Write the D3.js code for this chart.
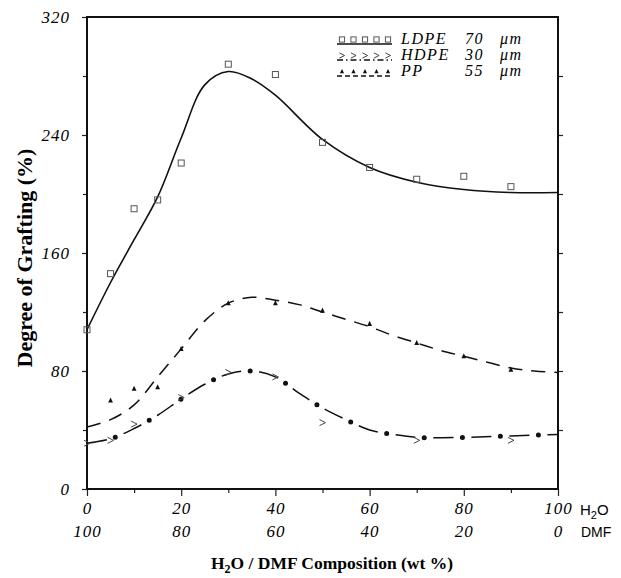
<!doctype html>
<html lang="en">
<head>
    <meta charset="UTF-8">
    <title>Degree of Grafting</title>
    <style>
        body { margin: 0; background: #fff; }
        .tick text { font-family: "Liberation Serif", serif; font-style: italic; font-size: 17px; letter-spacing: 1px; }
    </style>
</head>
<body>

<div class="canvas"></div>

<script src="https://d3js.org/d3.v7.min.js"></script>
<script>
    // measured points
    const ldpeX = [0, 5, 10, 15, 20, 30, 40, 50, 60, 70, 80, 90];
    const ldpeY = [108, 146, 190, 196, 221, 288, 281, 235, 218, 210, 212, 205];
    const hdpeX = [0, 5, 10, 20, 30, 40, 50, 70, 90];
    const hdpeY = [31, 33, 44, 62, 79, 76, 45, 33, 33];
    const ppX = [5, 10, 15, 20, 30, 40, 50, 60, 70, 80, 90];
    const ppY = [60, 68, 69, 95, 126, 126, 121, 112, 99, 90, 81];

    // fitted curves
    const ldpeFitX = [0, 5, 10, 15, 20, 25, 30, 35, 40, 50, 60, 70, 80, 90, 100];
    const ldpeFitY = [108, 140, 169, 198, 238, 274, 283, 278, 267, 237, 218, 208, 203, 201, 201];
    const hdpeFitX = [0, 5, 10, 15, 20, 25, 30, 35, 40, 45, 50, 55, 60, 65, 70, 80, 90, 100];
    const hdpeFitY = [31, 34, 41, 50, 61, 71, 78, 80, 76, 65, 55, 47, 40, 37, 35, 35, 36, 37];
    const ppFitX = [0, 5, 10, 15, 20, 25, 30, 35, 40, 45, 50, 55, 60, 65, 70, 75, 80, 85, 90, 95, 100];
    const ppFitY = [42, 47, 57, 76, 95, 114, 126, 130, 128, 125, 120, 115, 110, 104, 99, 94, 90, 86, 82, 80, 79];

    const xTicks = [0, 20, 40, 60, 80, 100];
    const xMinor = [10, 30, 50, 70, 90];
    const yTicks = [0, 80, 160, 240, 320];
    const yMinor = [40, 120, 200, 280];

    const legendNames = ['LDPE', 'HDPE', 'PP'];
    const legendSizes = ['70', '30', '55'];

    const svgWidth = 621;
    const svgHeight = 578;

    const svg = d3.select('.canvas').append('svg')
        .attr('width', svgWidth)
        .attr('height', svgHeight)
    ;

    const x = d3.scaleLinear().domain([0, 100]).range([87, 558]);
    const y = d3.scaleLinear().domain([0, 320]).range([489, 17]);

    const pts = (xs, ys) => xs.map((v, i) => [v, ys[i]]);
    const line = d3.line()
        .x(d => x(d[0]))
        .y(d => y(d[1]))
        .curve(d3.curveCatmullRom.alpha(0.5))
    ;

    // axes
    svg.append('g').attr('transform', `translate(${x(0)},0)`)
        .call(d3.axisLeft(y).tickValues(yTicks).tickSize(5).tickPadding(12));
    svg.append('g').attr('transform', `translate(${x(0)},0)`)
        .call(d3.axisLeft(y).tickValues(yMinor).tickSize(4).tickFormat(''));
    svg.append('g').attr('transform', `translate(${x(100)},0)`)
        .call(d3.axisLeft(y).tickValues(yMinor.concat([80, 160, 240])).tickSize(-5).tickFormat(''));

    svg.append('g').attr('transform', `translate(0,${y(0)})`)
        .call(d3.axisBottom(x).tickValues(xTicks).tickSize(7).tickPadding(6));
    svg.append('g').attr('transform', `translate(0,${y(0)})`)
        .call(d3.axisBottom(x).tickValues(xMinor).tickSize(4).tickFormat(''));
    // DMF row
    svg.append('g').attr('transform', `translate(0,${y(0) + 23})`)
        .call(d3.axisBottom(x).tickValues(xTicks).tickSize(0).tickPadding(13).tickFormat(d => 100 - d));

    svg.selectAll('.domain').remove();
    svg.selectAll('.tick line').attr('stroke', '#222').attr('stroke-width', 1.2);

    // frame
    svg.append('rect')
        .attr('x', x(0)).attr('y', y(320))
        .attr('width', x(100) - x(0)).attr('height', y(0) - y(320))
        .attr('fill', 'none').attr('stroke', '#111').attr('stroke-width', 2)
    ;

    svg.append('text').attr('x', x(100) + 22).attr('y', 515)
        .attr('font-family', '"Liberation Sans", sans-serif').attr('font-size', 15)
        .html('H<tspan font-size="11" dy="4">2</tspan><tspan dy="-4">O</tspan>');
    svg.append('text').attr('x', x(100) + 23).attr('y', 537)
        .attr('font-family', '"Liberation Sans", sans-serif').attr('font-size', 14)
        .text('DMF');

    // titles
    svg.append('text')
        .attr('transform', 'translate(32,258) rotate(-90)')
        .attr('text-anchor', 'middle')
        .attr('font-family', '"Liberation Serif", serif').attr('font-weight', 'bold').attr('font-size', 22)
        .text('Degree of Grafting (%)');
    svg.append('text')
        .attr('x', 332).attr('y', 569)
        .attr('text-anchor', 'middle')
        .attr('font-family', '"Liberation Serif", serif').attr('font-weight', 'bold').attr('font-size', 17.5)
        .html('H<tspan font-size="12" dy="4">2</tspan><tspan dy="-4">O / DMF Composition (wt %)</tspan>');

    // curves
    const plot = svg.append('g');
    plot.append('path').datum(pts(ldpeFitX, ldpeFitY))
        .attr('d', line).attr('fill', 'none').attr('stroke', '#111').attr('stroke-width', 1.6);

    plot.append('path').datum(pts(ppFitX, ppFitY))
        .attr('d', line).attr('fill', 'none').attr('stroke', '#111').attr('stroke-width', 1.5)
        .attr('stroke-dasharray', '14,9');

    plot.append('path').datum(pts(hdpeFitX, hdpeFitY))
        .attr('d', line).attr('fill', 'none').attr('stroke', '#111').attr('stroke-width', 1.5)
        .attr('stroke-dasharray', '20,18');
    plot.append('path').datum(pts(hdpeFitX, hdpeFitY))
        .attr('d', line).attr('fill', 'none').attr('stroke', '#111').attr('stroke-width', 5)
        .attr('stroke-linecap', 'round')
        .attr('stroke-dasharray', '0,38').attr('stroke-dashoffset', -29);

    // markers
    const square = (g, cx, cy, s = 3) => g.append('rect')
        .attr('x', cx - s).attr('y', cy - s).attr('width', 2 * s).attr('height', 2 * s)
        .attr('fill', 'none').attr('stroke', '#555').attr('stroke-width', 1);
    const chevron = (g, cx, cy, s = 3) => g.append('path')
        .attr('d', `M${cx - s},${cy - s}L${cx + s},${cy}L${cx - s},${cy + s}`)
        .attr('fill', 'none').attr('stroke', '#444').attr('stroke-width', 1);
    const tri = (g, cx, cy, s = 3) => g.append('path')
        .attr('d', `M${cx},${cy - s}L${cx + s * 0.8},${cy + s * 0.7}L${cx - s * 0.8},${cy + s * 0.7}Z`)
        .attr('fill', '#111');

    ldpeX.forEach((v, i) => square(plot, x(v), y(ldpeY[i])));
    hdpeX.forEach((v, i) => chevron(plot, x(v), y(hdpeY[i])));
    ppX.forEach((v, i) => tri(plot, x(v), y(ppY[i])));

    // legend
    const legend = svg.append('g');
    const rowY = [44, 60, 76];
    const markers = [square, chevron, tri];
    const dash = ['none', '6,3,1.5,3', '5,3'];
    legendNames.forEach((name, i) => {
        const ry = rowY[i];
        for (let k = 0; k < 5; k++) markers[i](legend, 342 + k * 11.5, ry - 4.5, 2.6);
        legend.append('line')
            .attr('x1', 337).attr('x2', 392).attr('y1', ry).attr('y2', ry)
            .attr('stroke', '#111').attr('stroke-width', 1.3)
            .attr('stroke-dasharray', dash[i]);
        const t = legend.append('text').attr('y', ry)
            .attr('font-family', '"Liberation Serif", serif').attr('font-style', 'italic')
            .attr('font-size', 16).attr('letter-spacing', 1.5);
        t.append('tspan').attr('x', 401).text(name);
        t.append('tspan').attr('x', 465).text(legendSizes[i]);
        t.append('tspan').attr('x', 500).text('\u03bcm');
    });
</script>
</body>
</html>
